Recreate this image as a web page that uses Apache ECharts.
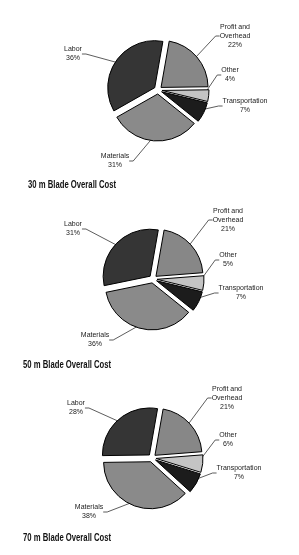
<!DOCTYPE html>
<html><head><meta charset="utf-8">
<script src="https://cdn.jsdelivr.net/npm/echarts@6/dist/echarts.min.js"></script>
<style>html,body{margin:0;padding:0;background:#fff}#c{width:299px;height:555px}</style>
</head><body><div id="c"></div>
<script>
const categories = ['Profit and\nOverhead', 'Other', 'Transportation', 'Materials', 'Labor'];
const titles = ['30 m Blade Overall Cost', '50 m Blade Overall Cost', '70 m Blade Overall Cost'];
const values30 = [22, 4, 7, 31, 36];
const values50 = [21, 5, 7, 36, 31];
const values70 = [21, 6, 7, 38, 28];
const allValues = [values30, values50, values70];

const colors = ['#878787', '#c4c4c4', '#1c1c1c', '#8a8a8a', '#353535'];
const centers = [[158, 90], [153, 279], [152, 458]];
const titlePos = [[28, 185], [23, 365], [23, 538]];
// label offsets relative to pie center (layout only)
const labelOffsets = [
  [[77, -54], [72, -15], [87, 16], [-43, 71], [-85, -36]],
  [[75, -59], [75, -19], [88, 14], [-58, 61], [-80, -50]],
  [[75, -60], [76, -18], [87, 15], [-63, 54], [-76, -50]]
];

const chart = echarts.init(document.getElementById('c'), null, {renderer: 'canvas'});
const series = [];
allValues.forEach((vals, k) => {
  // visible exploded slices
  series.push({
    type: 'pie',
    center: centers[k],
    radius: 47,
    startAngle: 80,
    clockwise: true,
    selectedMode: 'multiple',
    selectedOffset: 4,
    animation: false,
    silent: true,
    itemStyle: {borderColor: '#000', borderWidth: 1},
    label: {show: false},
    labelLine: {show: false},
    emphasis: {disabled: true},
    data: categories.map((c, i) => ({name: c, value: vals[i], selected: true, itemStyle: {color: colors[i]}}))
  });
  // transparent overlay carrying labels
  series.push({
    type: 'pie',
    center: centers[k],
    radius: 46,
    startAngle: 80,
    clockwise: true,
    selectedMode: false,
    animation: false,
    silent: true,
    avoidLabelOverlap: false,
    itemStyle: {color: 'rgba(0,0,0,0)', borderWidth: 0},
    label: {
      show: true,
      formatter: '{b}\n{d}%',
      fontFamily: 'Liberation Sans',
      fontSize: 7,
      lineHeight: 9,
      color: '#222'
    },
    labelLine: {show: true, length: 6, length2: 4, lineStyle: {color: '#333', width: 0.8}},
    labelLayout: function (p) {
      const o = labelOffsets[k][p.dataIndex];
      return {x: centers[k][0] + o[0], y: centers[k][1] + o[1], align: 'center', verticalAlign: 'middle'};
    },
    emphasis: {disabled: true},
    data: categories.map((c, i) => ({name: c, value: vals[i]}))
  });
});
chart.setOption({
  backgroundColor: '#fff',
  graphic: titles.map((t, k) => ({
    type: 'text',
    x: titlePos[k][0], y: titlePos[k][1],
    scaleX: 0.77,
    style: {
      text: t, font: 'bold 10px "Liberation Sans", Arial, sans-serif',
      fill: '#111', textVerticalAlign: 'middle', verticalAlign: 'middle'
    }
  })),
  series: series
});
</script></body></html>
